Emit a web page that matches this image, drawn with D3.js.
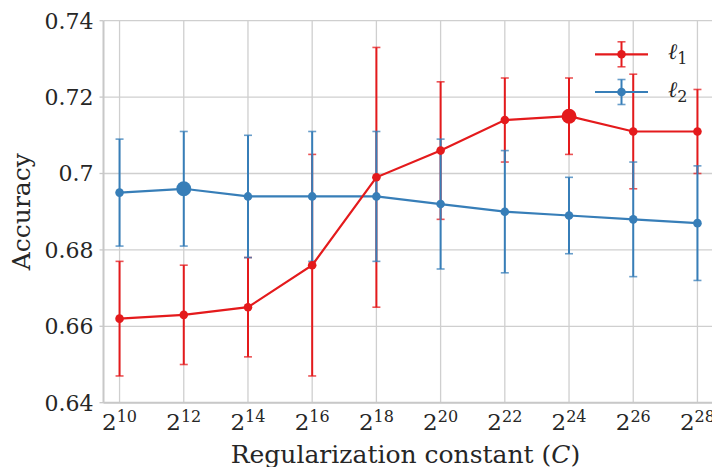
<!DOCTYPE html>
<html>
<head>
<meta charset="utf-8">
<script src="https://cdn.jsdelivr.net/npm/d3@7"></script>
<style>
  body { margin: 0; background: #fff; }
  text { font-family: "DejaVu Serif", serif; fill: #262626; }
</style>
</head>
<body>
<div id="chart"></div>
<script>
// exponents of C (2^k)
const exponents = [10, 12, 14, 16, 18, 20, 22, 24, 26, 28];
const l1Mean = [0.662, 0.663, 0.665, 0.676, 0.699, 0.706, 0.714, 0.715, 0.711, 0.711];
const l1Low  = [0.647, 0.650, 0.652, 0.647, 0.665, 0.688, 0.703, 0.705, 0.696, 0.700];
const l1High = [0.677, 0.676, 0.678, 0.705, 0.733, 0.724, 0.725, 0.725, 0.726, 0.722];
const l2Mean = [0.695, 0.696, 0.694, 0.694, 0.694, 0.692, 0.690, 0.689, 0.688, 0.687];
const l2Low  = [0.681, 0.681, 0.678, 0.677, 0.677, 0.675, 0.674, 0.679, 0.673, 0.672];
const l2High = [0.709, 0.711, 0.710, 0.711, 0.711, 0.709, 0.706, 0.699, 0.703, 0.702];
const yTicks = [0.64, 0.66, 0.68, 0.70, 0.72, 0.74];
const yTickLabels = ["0.64", "0.66", "0.68", "0.7", "0.72", "0.74"];

const width = 712, height = 467;
const margin = { top: 20.7, right: -1.5, bottom: 64.3, left: 103.5 };
const innerW = width - margin.left - margin.right;
const innerH = height - margin.top - margin.bottom;

const svg = d3.select("#chart").append("svg")
    .attr("width", width)
    .attr("height", height);
const g = svg.append("g")
    .attr("transform", "translate(" + margin.left + "," + margin.top + ")");

const x = d3.scaleLinear().domain([9.5, 28.5]).range([0, innerW]);
const y = d3.scaleLinear().domain([0.64, 0.74]).range([innerH, 0]);

// grid
g.append("g").selectAll("line").data(yTicks).enter().append("line")
    .attr("x1", 0).attr("x2", innerW)
    .attr("y1", d => y(d)).attr("y2", d => y(d))
    .attr("stroke", "#cfcfcf").attr("stroke-width", 1.3);
g.append("g").selectAll("line").data(exponents).enter().append("line")
    .attr("x1", d => x(d)).attr("x2", d => x(d))
    .attr("y1", 0).attr("y2", innerH)
    .attr("stroke", "#cfcfcf").attr("stroke-width", 1.3);

// spines
g.append("line").attr("x1", 0).attr("x2", 0).attr("y1", 0).attr("y2", innerH)
    .attr("stroke", "#c8c8c8").attr("stroke-width", 2);
g.append("line").attr("x1", 0).attr("x2", innerW).attr("y1", innerH).attr("y2", innerH)
    .attr("stroke", "#c8c8c8").attr("stroke-width", 2);

// y axis labels
const yAxis = g.append("g");
yAxis.selectAll("line").data(yTicks).enter().append("line")
    .attr("x1", -4).attr("x2", 0)
    .attr("y1", d => y(d)).attr("y2", d => y(d))
    .attr("stroke", "#c8c8c8").attr("stroke-width", 1.3);
yAxis.selectAll("text").data(yTicks).enter().append("text")
    .attr("x", -10).attr("y", d => y(d))
    .attr("dy", "0.36em")
    .attr("text-anchor", "end")
    .style("font-size", "22px")
    .text((d, i) => yTickLabels[i]);

// x axis labels 2^k
const xLab = g.append("g").selectAll("text").data(exponents).enter().append("text")
    .attr("x", d => x(d)).attr("y", innerH + 27.5)
    .attr("text-anchor", "middle")
    .style("font-size", "23px");
xLab.append("tspan").text("2");
xLab.append("tspan").attr("dy", -8.5).style("font-size", "16px").text(d => d);

// axis titles
const xt = g.append("text")
    .attr("x", innerW / 2 - 3).attr("y", innerH + 60.5)
    .attr("text-anchor", "middle")
    .style("font-size", "25px");
xt.append("tspan").text("Regularization constant (");
xt.append("tspan").style("font-style", "italic").text("C");
xt.append("tspan").text(")");

g.append("text")
    .attr("transform", "translate(" + (-74) + "," + (innerH / 2) + ") rotate(-90)")
    .attr("text-anchor", "middle")
    .style("font-size", "25px")
    .text("Accuracy");

const red = "#e41a1c", blue = "#377eb8";
const series = [
    { name: "1", color: red, mean: l1Mean, low: l1Low, high: l1High },
    { name: "2", color: blue, mean: l2Mean, low: l2Low, high: l2High }
];

// error bars
series.forEach(s => {
    const eb = g.append("g");
    const rows = exponents.map((e, i) => ({ e: e, lo: s.low[i], hi: s.high[i] }));
    eb.selectAll(".bar").data(rows).enter().append("line")
        .attr("x1", d => x(d.e)).attr("x2", d => x(d.e))
        .attr("y1", d => y(d.lo)).attr("y2", d => y(d.hi))
        .attr("stroke", s.color).attr("stroke-width", 2);
    ["lo", "hi"].forEach(k => {
        eb.selectAll(".cap" + k).data(rows).enter().append("line")
            .attr("x1", d => x(d.e) - 4).attr("x2", d => x(d.e) + 4)
            .attr("y1", d => y(d[k])).attr("y2", d => y(d[k]))
            .attr("stroke", s.color).attr("stroke-width", 1.6)
            .attr("stroke-opacity", 0.75);
    });
});

// lines + markers (blue under red)
const line = d3.line().x(d => x(d[0])).y(d => y(d[1]));
[series[1], series[0]].forEach(s => {
    const pts = exponents.map((e, i) => [e, s.mean[i]]);
    const best = d3.maxIndex(s.mean);
    g.append("path").datum(pts)
        .attr("d", line)
        .attr("fill", "none")
        .attr("stroke", s.color)
        .attr("stroke-width", 2.2);
    g.append("g").selectAll("circle").data(pts).enter().append("circle")
        .attr("cx", d => x(d[0])).attr("cy", d => y(d[1]))
        .attr("r", (d, i) => i === best ? 7.5 : 4.3)
        .attr("fill", s.color);
});

// legend
const legend = svg.append("g").attr("transform", "translate(595,54.3)");
series.forEach((s, i) => {
    const row = legend.append("g").attr("transform", "translate(0," + (i * 37.7) + ")");
    row.append("line").attr("x1", 0).attr("x2", 53).attr("y1", 0).attr("y2", 0)
        .attr("stroke", s.color).attr("stroke-width", 2.2);
    row.append("line").attr("x1", 26.5).attr("x2", 26.5).attr("y1", -12.5).attr("y2", 12.5)
        .attr("stroke", s.color).attr("stroke-width", 2);
    [-12.5, 12.5].forEach(cy => {
        row.append("line").attr("x1", 22.5).attr("x2", 30.5).attr("y1", cy).attr("y2", cy)
            .attr("stroke", s.color).attr("stroke-width", 1.6).attr("stroke-opacity", 0.75);
    });
    row.append("circle").attr("cx", 26.5).attr("cy", 0).attr("r", 4.3).attr("fill", s.color);
    const t = row.append("text").attr("x", 73).attr("y", 5).style("font-size", "22px");
    t.append("tspan").style("font-style", "italic").text("\u2113");
    t.append("tspan").attr("dy", 5).style("font-size", "16px").text(s.name);
});
</script>
</body>
</html>
